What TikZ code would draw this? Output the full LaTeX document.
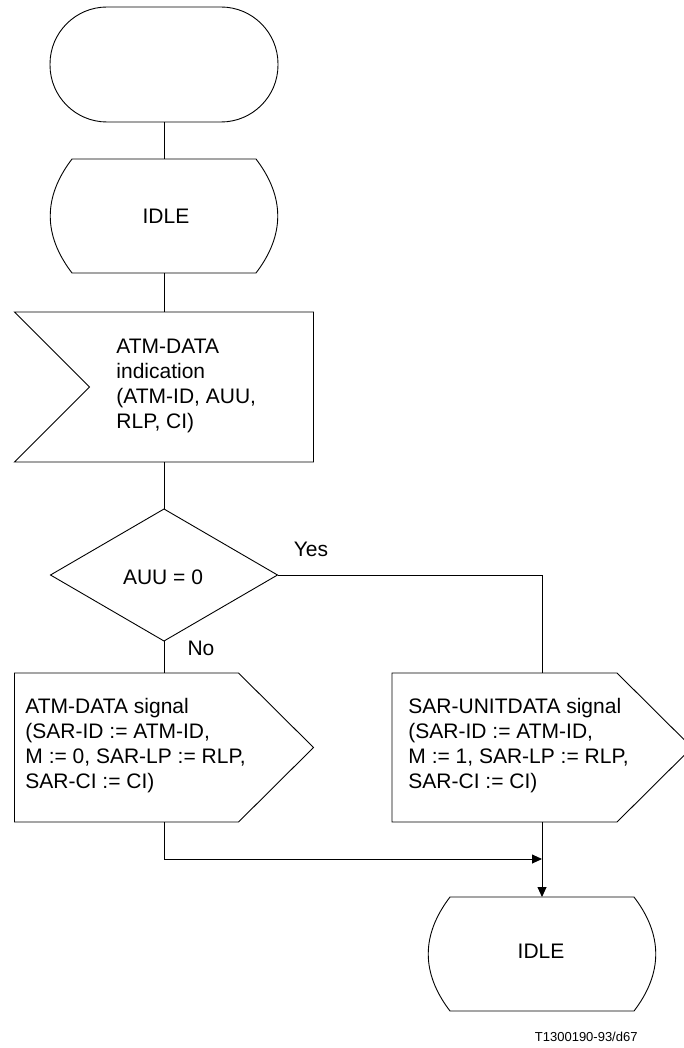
\documentclass[tikz,border=0pt]{standalone}
\usepackage{fontspec}
\setmainfont{Liberation Sans}
\usetikzlibrary{arrows.meta}
\newcommand\stateoutline[1]{%
  \draw ([xshift=22pt]#1.north west) -- ([xshift=-22pt]#1.north east)
    .. controls ([xshift=7pt,yshift=-38pt]#1.north east) and ([xshift=7pt,yshift=38pt]#1.south east) .. ([xshift=-22pt]#1.south east)
    -- ([xshift=22pt]#1.south west)
    .. controls ([xshift=-7pt,yshift=38pt]#1.south west) and ([xshift=-7pt,yshift=-38pt]#1.north west) .. ([xshift=22pt]#1.north west)
    -- cycle;}
\begin{document}
\begin{tikzpicture}[x=1pt,y=-1pt, line width=0.9pt, line join=miter,
  box/.style={draw=none, rectangle, inner sep=0pt, outer sep=0pt},
  txt/.style={inner sep=0pt, font=\fontsize{21}{25}\selectfont, align=left},
  arr/.style={-{Triangle[length=10pt,width=9pt]}}]
\path[use as bounding box, fill=white] (0,0) rectangle (684,1048);

% nodes (frames)
\node[box, minimum width=228pt, minimum height=115pt] (start) at (164,64.5) {};
\node[box, minimum width=228pt, minimum height=114pt] (idle1) at (164,216) {};
\node[box, minimum width=299pt, minimum height=150pt] (inp) at (164,387) {};
\node[box, minimum width=227pt, minimum height=132pt] (dec) at (164,575) {};
\node[box, minimum width=299pt, minimum height=149pt] (lout) at (164,747.5) {};
\node[box, minimum width=300pt, minimum height=149pt] (rout) at (542,747.5) {};
\node[box, minimum width=228pt, minimum height=114pt] (idle2) at (542,954) {};

% texts
\node[txt] (idle1t) at (166,216) {IDLE};
\node[txt, anchor=west] (inpt) at (116,386) {ATM-DATA\\indication\\(ATM-ID, AUU,\\RLP, CI)};
\node[txt] (dect) at (163,577) {AUU = 0};
\node[txt] (yes) at (311,549) {Yes};
\node[txt] (no) at (201,648) {No};
\node[txt, anchor=west] (loutt) at (25,746) {ATM-DATA signal\\(SAR-ID := ATM-ID,\\M := 0, SAR-LP := RLP,\\SAR-CI := CI)};
\node[txt, anchor=west] (routt) at (408,746) {SAR-UNITDATA signal\\(SAR-ID := ATM-ID,\\M := 1, SAR-LP := RLP,\\SAR-CI := CI)};
\node[txt] (idle2t) at (541,951) {IDLE};
\node[inner sep=0pt, font=\fontsize{13}{15}\selectfont, anchor=east] (cap) at (638,1037) {T1300190-93/d67};

% shape outlines
\draw[rounded corners=57pt] (start.north west) rectangle (start.south east);
\stateoutline{idle1}
\stateoutline{idle2}
\draw (inp.north west) -- (inp.north east) -- (inp.south east) -- (inp.south west) -- ([xshift=75pt]inp.west) -- cycle;
\draw (dec.north) -- (dec.east) -- (dec.south) -- (dec.west) -- cycle;
\draw (lout.north west) -- ([xshift=-75pt]lout.north east) -- (lout.east) -- ([xshift=-75pt]lout.south east) -- (lout.south west) -- cycle;
\draw (rout.north west) -- ([xshift=-75pt]rout.north east) -- (rout.east) -- ([xshift=-75pt]rout.south east) -- (rout.south west) -- cycle;

% connectors
\draw (start.south) -- (idle1.north);
\draw (idle1.south) -- (inp.north);
\draw (inp.south) -- (dec.north);
\draw (dec.south) -- (lout.north);
\draw (dec.east) -| (rout.north);
\coordinate (merge) at (542,859);
\draw[arr] (lout.south) |- (merge);
\draw[arr] (rout.south) -- (idle2.north);
\end{tikzpicture}
\end{document}
